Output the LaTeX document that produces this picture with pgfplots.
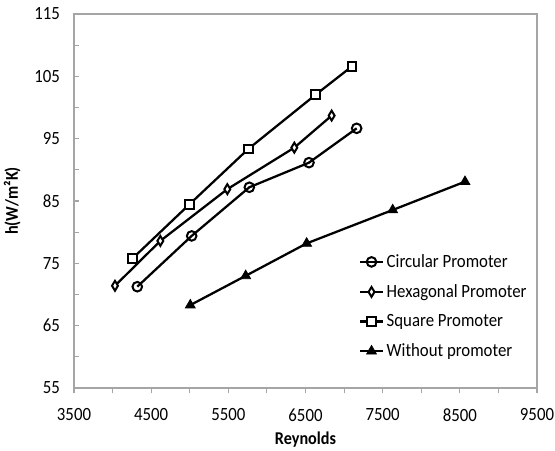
\documentclass[border=0pt]{standalone}
\usepackage{pgfplots}
\pgfplotsset{compat=1.18}
\usepackage{fontspec}
\setmainfont{Carlito}[FakeStretch=0.9]
\definecolor{axgray}{RGB}{165,165,165}
\begin{document}
\begin{tikzpicture}
\begin{axis}[
  scale only axis,
  width=347.25pt, height=280.5pt,
  xmin=3500, xmax=9500, ymin=55, ymax=115,
  xtick={3500,4500,...,9500},
  minor xtick={4000,5000,...,9000},
  ytick={55,65,...,115},
  minor ytick={60,70,...,110},
  tick pos=left,
  tick align=outside,
  major tick length=4pt, minor tick length=4pt,
  x tick style={axgray, line width=0.8pt},
  y tick style={axgray, line width=0.8pt, xshift=4pt},
  axis line style={axgray, line width=0.8pt},
  /pgf/number format/assume math mode=true,
  /pgf/number format/1000 sep={},
  tick label style={font=\fontsize{14}{14}\selectfont, black},
  xticklabel style={yshift=-8pt},
  yticklabel style={xshift=-3pt},
  xlabel={\textbf{Reynolds}},
  ylabel={\textbf{h(W/m²K)}},
  label style={font=\fontsize{13.5}{13.5}\selectfont},
  xlabel style={yshift=-1pt},
  ylabel style={yshift=3.5pt},
  legend style={draw=none, fill=none, at={(rel axis cs:0.615,0.365)}, anchor=north west,
    font=\fontsize{14}{14}\selectfont, row sep=7.3pt, inner sep=0pt},
  legend cell align=left,
  every axis plot/.append style={black, line width=1.7pt},
]
\coordinate (O) at (rel axis cs:0,0);
\addplot[mark=o, mark size=3.6pt, mark options={fill=white, line width=1.5pt}] coordinates {
 (4320,71.25) (5025,79.4) (5772,87.2) (6545,91.15) (7163,96.66)};
\addlegendentry{Circular Promoter}
\addplot[mark=diamond*, mark size=3.7pt, mark options={fill=white, line width=1.5pt, xscale=0.8}] coordinates {
 (4031,71.4) (4619,78.6) (5487,86.9) (6355,93.56) (6839,98.7)};
\addlegendentry{Hexagonal Promoter}
\addplot[mark=square*, mark size=3.3pt, mark options={fill=white, line width=1.5pt}] coordinates {
 (4260,75.8) (4999,84.5) (5759,93.35) (6632,102.06) (7102,106.6)};
\addlegendentry{Square Promoter}
\addplot[mark=triangle*, mark size=4.3pt, mark options={fill=black, line width=0.5pt}] coordinates {
 (5007,68.3) (5725,73.0) (6515,78.2) (7630,83.56) (8567,88.1)};
\addlegendentry{Without promoter}
\end{axis}
\pgfresetboundingbox
\path[use as bounding box] (O) ++(-55.5pt,-46.5pt) rectangle ++(416.25pt,337.5pt);
\end{tikzpicture}
\end{document}
